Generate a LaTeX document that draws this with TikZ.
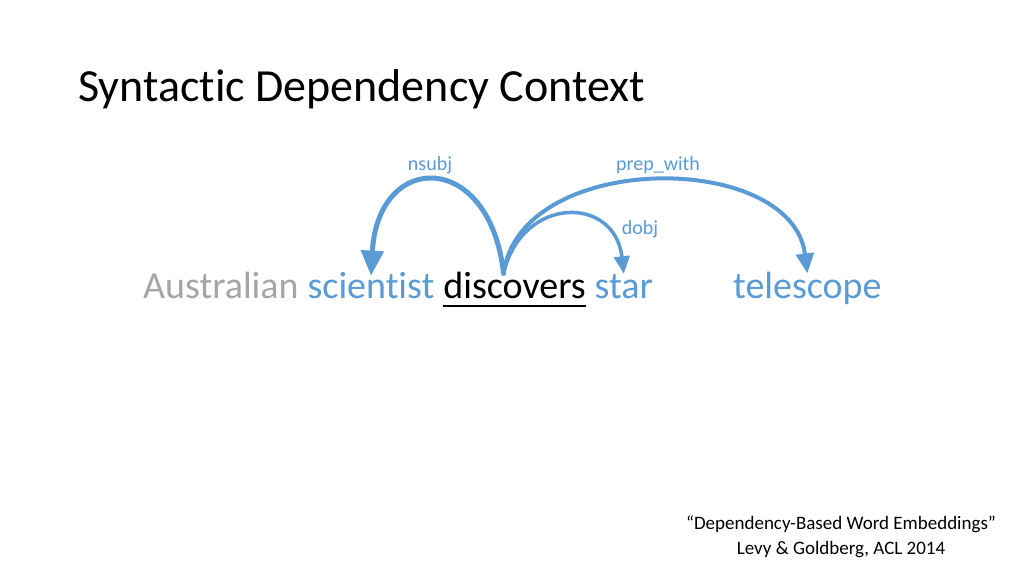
\documentclass[tikz,border=0pt]{standalone}
\usepackage{fontspec}
\setmainfont{Carlito}[Ligatures={TeX,NoCommon,NoContextual},RawFeature={-liga;-clig;-dlig}]
\usetikzlibrary{positioning,calc,arrows.meta}
\definecolor{depblue}{HTML}{5B9BD5}
\definecolor{wordgray}{HTML}{A6A6A6}
\tikzset{
  word/.style={inner sep=0pt,font=\fontsize{38}{40}\selectfont},
  rel/.style={inner sep=0pt,text=depblue,font=\fontsize{20}{22}\selectfont},
  dep/.style={draw=depblue,line cap=round,-{Triangle[width=#1*4.4pt,length=#1*5pt]},line width=#1}
}
\begin{document}
\begin{tikzpicture}[x=1pt,y=-1pt]
  \useasboundingbox[fill=white] (0,0) rectangle (1024,576);
  \node[anchor=base west,inner sep=0pt,font=\fontsize{46}{48}\selectfont] (title) at (78,101) {Syntactic Dependency Context};
  % sentence
  \node[word,anchor=base west,text=wordgray] (aus) at (143,298) {Australian};
  \node[word,text=depblue,base right=8.6pt of aus] (sci) {scientist};
  \node[word,base right=8.6pt of sci] (disc) {discovers};
  \node[word,text=depblue,base right=8.6pt of disc] (star) {star};
  \node[word,text=depblue,anchor=base west] (tel) at (733,298) {telescope};
  \draw[line width=1.6pt] ($(disc.base west)+(0,8)$) -- ($(disc.base east)+(0,8)$);
  % relations
  \coordinate (src) at ($(disc.north)+(-11,2)$);
  \draw[dep=5pt] (src) .. controls (490,150) and (378,150) .. ($(sci.north)+(0,4)$);
  \draw[dep=4pt] (src) .. controls (520,150) and (792,150) .. ($(tel.north)+(0,2)$);
  \draw[dep=3.5pt] (src) .. controls (522,195) and (615,195) .. (star.north);
  \node[rel] (nsubj) at (430,165) {nsubj};
  \node[rel] (prep) at (658,165) {prep\_with};
  \node[rel] (dobj) at (640,229) {dobj};
  % citation
  \node[align=center,inner sep=0pt,font=\fontsize{19}{25}\selectfont] (cite) at (841,537) {``Dependency-Based Word Embeddings''\\Levy \& Goldberg, ACL 2014};
\end{tikzpicture}
\end{document}
